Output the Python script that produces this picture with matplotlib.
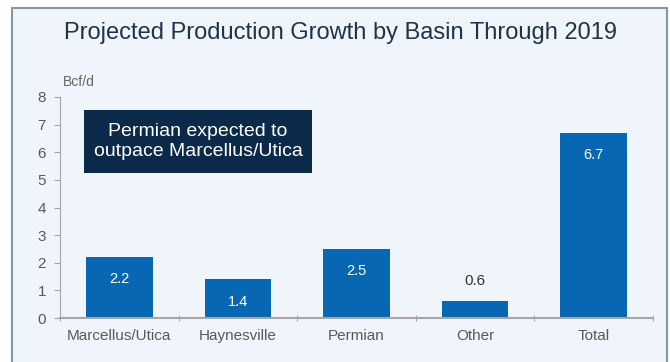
import matplotlib.pyplot as plt
from matplotlib.patches import Rectangle

basins = ["Marcellus/Utica", "Haynesville", "Permian", "Other", "Total"]
growth = [2.2, 1.4, 2.5, 0.6, 6.7]
yticks = [0, 1, 2, 3, 4, 5, 6, 7, 8]

plt.rcParams['font.family'] = ['Liberation Sans', 'DejaVu Sans']

W, H = 670, 362
fig = plt.figure(figsize=(W / 100, H / 100), dpi=100)
fig.patch.set_facecolor("white")

# framed panel behind everything
fig.patches.append(Rectangle((12 / W, -0.05), (667 - 12) / W, (H - 8) / H + 0.05,
                             transform=fig.transFigure, facecolor="#eff5fb",
                             edgecolor="#8696a6", linewidth=1.5, zorder=-1))

ax = fig.add_axes([60 / W, (H - 318) / H, (653 - 60) / W, (318 - 97) / H])
ax.set_zorder(1)
ax.set_facecolor("none")

bar_color = "#0867b3"
x = range(len(basins))
bars = ax.bar(x, growth, width=0.56, color=bar_color, zorder=2)

for xi, v in zip(x, growth):
    if v >= 1:
        ax.annotate(f"{v:.1f}", (xi, v), xytext=(0, -16), textcoords="offset points",
                    ha="center", va="center", color="white", fontsize=10.5)
    else:
        ax.annotate(f"{v:.1f}", (xi, v), xytext=(0, 15), textcoords="offset points",
                    ha="center", va="center", color="#333333", fontsize=11)

ax.set_xlim(-0.5, len(basins) - 0.5)
ax.set_ylim(0, 8)
ax.set_yticks(yticks)
ax.set_xticks([i - 0.5 for i in range(len(basins) + 1)], minor=False)
ax.set_xticklabels([])
ax.set_xticks(list(x), minor=True)
ax.set_xticklabels(basins, minor=True)
ax.tick_params(axis="x", which="minor", length=0, pad=8, labelsize=11, labelcolor="#595959")
ax.tick_params(axis="x", which="major", length=5, color="#a6a6a6", direction="inout")
ax.tick_params(axis="y", length=4, color="#a6a6a6", labelsize=11, labelcolor="#595959", pad=6)

for side in ["top", "right"]:
    ax.spines[side].set_visible(False)
ax.spines["left"].set_color("#a6a6a6")
ax.spines["bottom"].set_color("#a6a6a6")
ax.spines["bottom"].set_linewidth(1.5)

fig.text(64 / W, 1 - 33 / H, "Projected Production Growth by Basin Through 2019",
         fontsize=17, color="#1f3349", va="center", ha="left")
fig.text(63 / W, 1 - 82 / H, "Bcf/d", fontsize=10, color="#666666", va="center", ha="left")

# callout box
fig.patches.append(Rectangle((84 / W, 1 - 173 / H), (312 - 84) / W, (173 - 110) / H,
                             transform=fig.transFigure, facecolor="#0b2a4a",
                             edgecolor="none", zorder=3))
fig.text(198 / W, 1 - 141.5 / H, "Permian expected to\noutpace Marcellus/Utica",
         fontsize=14, color="white", ha="center", va="center", linespacing=1.2, zorder=4)

fig.savefig("out.png", dpi=100)
